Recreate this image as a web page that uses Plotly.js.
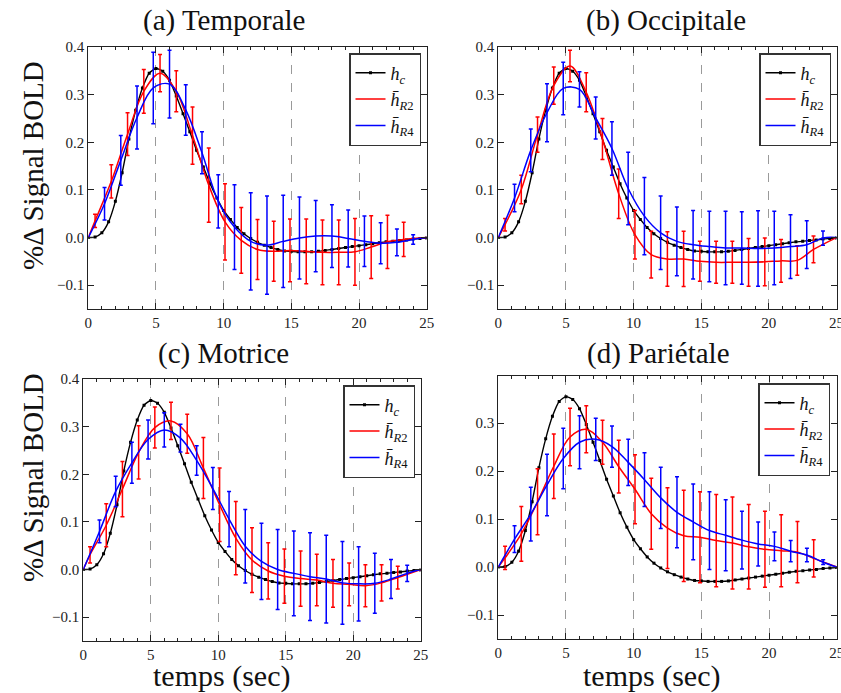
<!DOCTYPE html>
<html><head><meta charset="utf-8">
<script src="https://cdn.plot.ly/plotly-3.0.1.min.js"></script>
<style>body{margin:0;background:#fff}#chart{width:841px;height:693px}</style>
</head><body><div id="chart"></div>
<script>
// ---------- data ----------
const panelTitles = ['(a) Temporale', '(b) Occipitale', '(c) Motrice', '(d) Pariétale'];
const legendNames = ['<i>h</i><sub><i>c</i></sub>', '<i>h\u0304</i><sub><i>R</i>2</sub>', '<i>h\u0304</i><sub><i>R</i>4</sub>'];
const xTitle = 'temps (sec)';
const yTitle = '%\u0394 Signal BOLD';

// canonical response h_c (same in all four panels)
const tH = [0,0.5,1,1.5,2,2.5,3,3.5,4,4.5,5,5.5,6,6.5,7,7.5,8,8.5,9,9.5,10,10.5,11,11.5,12,12.5,13,13.5,14,14.5,15,15.5,16,16.5,17,17.5,18,18.5,19,19.5,20,20.5,21,21.5,22,22.5,23,23.5,24,24.5,25];
const hC = [0,0.001,0.01,0.033,0.076,0.136,0.207,0.267,0.314,0.345,0.355,0.349,0.33,0.297,0.26,0.222,0.183,0.148,0.113,0.083,0.057,0.038,0.021,0.008,-0.002,-0.01,-0.016,-0.021,-0.025,-0.028,-0.029,-0.03,-0.03,-0.03,-0.029,-0.027,-0.025,-0.023,-0.021,-0.019,-0.017,-0.015,-0.013,-0.011,-0.009,-0.008,-0.006,-0.005,-0.003,-0.002,-0.001];

// time points of R2 (red) and R4 (blue) estimates
const tR = [0,0.5,1.7,2.9,4.1,5.3,6.5,7.7,8.9,10.1,11.3,12.5,13.7,14.9,16.1,17.3,18.5,19.7,20.9,22.1,23.3,25];
const tB = [0,1.2,2.4,3.6,4.8,6.0,7.2,8.4,9.6,10.8,12.0,13.2,14.4,15.6,16.8,18.0,19.2,20.4,21.6,22.8,24.0,25];

// (a) Temporale
const redA  = [0,0.035,0.118,0.217,0.307,0.345,0.307,0.214,0.11,0.033,-0.006,-0.025,-0.029,-0.027,-0.029,-0.031,-0.031,-0.03,-0.02,-0.009,-0.004,0];
const redAErr  = [0.014,0.035,0.045,0.046,0.039,0.043,0.06,0.078,0.08,0.069,0.063,0.063,0.066,0.068,0.068,0.068,0.07,0.066,0.056,0.036];
const blueA = [0,0.071,0.162,0.252,0.314,0.322,0.268,0.178,0.076,0.022,-0.008,-0.016,-0.008,-0.001,0.003,0.003,-0.002,-0.008,-0.012,-0.01,-0.004,0];
const blueAErr = [0.034,0.052,0.066,0.075,0.071,0.053,0.044,0.056,0.089,0.102,0.103,0.097,0.086,0.075,0.066,0.06,0.053,0.043,0.028,0.01];

// (b) Occipitale
const redB  = [0,0.027,0.101,0.216,0.319,0.36,0.305,0.207,0.092,0.006,-0.036,-0.045,-0.045,-0.05,-0.052,-0.052,-0.052,-0.051,-0.049,-0.048,-0.025,0];
const redBErr  = [0.013,0.03,0.037,0.039,0.033,0.041,0.043,0.052,0.051,0.049,0.057,0.058,0.042,0.044,0.044,0.05,0.05,0.045,0.031,0.028];
const blueB = [0,0.083,0.183,0.262,0.313,0.311,0.251,0.187,0.103,0.045,0.01,-0.008,-0.015,-0.019,-0.022,-0.022,-0.023,-0.022,-0.019,-0.015,-0.001,0];
const blueBErr = [0.029,0.045,0.061,0.055,0.037,0.044,0.056,0.076,0.081,0.077,0.072,0.072,0.074,0.077,0.076,0.079,0.077,0.067,0.05,0.015];

// (c) Motrice
const redC  = [0,0.031,0.093,0.169,0.246,0.298,0.312,0.285,0.213,0.136,0.066,0.02,-0.003,-0.014,-0.019,-0.022,-0.029,-0.031,-0.034,-0.028,-0.017,0];
const redCErr  = [0.017,0.045,0.058,0.056,0.043,0.039,0.041,0.064,0.077,0.077,0.068,0.059,0.057,0.058,0.054,0.05,0.045,0.044,0.038,0.024];
const blueC = [0,0.08,0.164,0.224,0.273,0.293,0.276,0.229,0.17,0.106,0.049,0.017,0.0,-0.008,-0.015,-0.02,-0.028,-0.03,-0.029,-0.02,-0.008,0];
const blueCErr = [0.024,0.032,0.043,0.041,0.036,0.029,0.031,0.044,0.058,0.077,0.08,0.084,0.089,0.092,0.092,0.087,0.078,0.063,0.041,0.017];

// (d) Pariétale
const redD  = [0,0.019,0.069,0.136,0.21,0.271,0.287,0.26,0.209,0.162,0.111,0.081,0.065,0.062,0.055,0.05,0.042,0.037,0.034,0.031,0.018,0];
const redDErr  = [0.024,0.057,0.069,0.067,0.06,0.049,0.046,0.055,0.072,0.074,0.084,0.095,0.095,0.096,0.096,0.088,0.079,0.075,0.064,0.039];
const blueD = [0,0.058,0.11,0.171,0.226,0.26,0.266,0.251,0.218,0.182,0.144,0.114,0.094,0.076,0.066,0.056,0.048,0.043,0.033,0.025,0.01,0];
const blueDErr = [0.028,0.056,0.064,0.063,0.055,0.044,0.043,0.048,0.056,0.064,0.074,0.079,0.081,0.074,0.06,0.046,0.03,0.022,0.014,0.005];

const xTicks = [0,5,10,15,20,25];
const yTicks = [-0.1,0.0,0.1,0.2,0.3,0.4];
const yTicksD = [-0.1,0.0,0.1,0.2,0.3];

// ---------- build ----------
const W = 841, H = 693;
const FONT = '"Liberation Serif", "Times New Roman", serif';
const RED = '#ff0000', BLUE = '#0000ff';

const panels = [
  {red: redA, redErr: redAErr, blue: blueA, blueErr: blueAErr, px: [88.3, 426.7], py: [47, 309], yr: [-0.15, 0.4], yt: yTicks,
   title: [224, 21], leg: [421, 53]},
  {red: redB, redErr: redBErr, blue: blueB, blueErr: blueBErr, px: [498.3, 836.5], py: [47, 309], yr: [-0.15, 0.4], yt: yTicks,
   title: [666, 21], leg: [831, 53]},
  {red: redC, redErr: redCErr, blue: blueC, blueErr: blueCErr, px: [83.3, 420.7], py: [379, 641], yr: [-0.15, 0.4], yt: yTicks,
   title: [223, 353], leg: [415, 385]},
  {red: redD, redErr: redDErr, blue: blueD, blueErr: blueDErr, px: [498.3, 836.7], py: [376, 639], yr: [-0.15, 0.398], yt: yTicksD,
   title: [658, 353], leg: [830, 383]}
];

const pad = e => [NaN].concat(e, [NaN]);
const traces = [];
const layout = {
  width: W, height: H, margin: {l: 0, r: 0, t: 0, b: 0},
  paper_bgcolor: '#fff', plot_bgcolor: '#fff',
  font: {family: FONT, color: '#111', size: 14},
  annotations: [], showlegend: true
};

panels.forEach((p, i) => {
  const n = i === 0 ? '' : String(i + 1);
  const xa = 'x' + n, ya = 'y' + n, lg = 'legend' + n;
  traces.push({x: tH, y: hC, xaxis: xa, yaxis: ya, type: 'scatter', mode: 'lines+markers',
    name: legendNames[0], legend: lg, line: {color: '#000', width: 1.4, shape: 'spline', smoothing: 0.6},
    marker: {color: '#000', size: 3, symbol: 'square'}});
  traces.push({x: tR, y: p.red, xaxis: xa, yaxis: ya, type: 'scatter', mode: 'lines',
    name: legendNames[1], legend: lg, line: {color: RED, width: 1.5, shape: 'spline', smoothing: 1},
    error_y: {type: 'data', array: pad(p.redErr), visible: true, color: RED, thickness: 1.5, width: 2}});
  traces.push({x: tB, y: p.blue, xaxis: xa, yaxis: ya, type: 'scatter', mode: 'lines',
    name: legendNames[2], legend: lg, line: {color: BLUE, width: 1.5, shape: 'spline', smoothing: 1},
    error_y: {type: 'data', array: pad(p.blueErr), visible: true, color: BLUE, thickness: 1.5, width: 2}});

  layout['xaxis' + n] = {
    domain: [p.px[0] / W, p.px[1] / W], anchor: ya, range: [0, 25],
    tickvals: xTicks, ticks: 'inside', ticklen: 6, tickwidth: 1, tickcolor: '#222',
    mirror: 'ticks', showline: true, linecolor: '#222', linewidth: 1,
    showgrid: true, gridcolor: '#9a9a9a', griddash: 'dash', gridwidth: 1, zeroline: false,
    minor: {dtick: 1, ticks: 'inside', ticklen: 3, tickcolor: '#222', showgrid: false},
    ticklabeloverflow: 'allow',
    tickfont: {family: FONT, size: 15, color: '#222'}, fixedrange: true
  };
  layout['yaxis' + n] = {
    domain: [1 - p.py[1] / H, 1 - p.py[0] / H], anchor: xa, range: p.yr,
    tickvals: p.yt, tickformat: '.1f', ticks: 'inside', ticklen: 6, tickwidth: 1, tickcolor: '#222',
    mirror: 'ticks', showline: true, linecolor: '#222', linewidth: 1,
    showgrid: false, zeroline: false, ticklabeloverflow: 'allow',
    tickfont: {family: FONT, size: 15, color: '#222'}, fixedrange: true
  };
  layout[lg] = {
    x: p.leg[0] / W, y: 1 - p.leg[1] / H, xanchor: 'right', yanchor: 'top',
    xref: 'paper', yref: 'paper',
    bgcolor: '#fff', bordercolor: '#333', borderwidth: 1.5,
    font: {family: FONT, size: 18, color: '#111'}, itemwidth: 30, tracegroupgap: 0
  };
  layout.annotations.push({text: panelTitles[i], x: p.title[0] / W, y: 1 - p.title[1] / H,
    xref: 'paper', yref: 'paper', xanchor: 'center', yanchor: 'middle', showarrow: false,
    font: {family: FONT, size: 29, color: '#111'}});
});

// axis titles
[[222, 676], [651, 676]].forEach(c => layout.annotations.push({text: xTitle, x: c[0] / W, y: 1 - c[1] / H,
  xref: 'paper', yref: 'paper', xanchor: 'center', yanchor: 'middle', showarrow: false,
  font: {family: FONT, size: 30, color: '#111'}}));
[[33, 166], [33, 478]].forEach(c => layout.annotations.push({text: yTitle, x: c[0] / W, y: 1 - c[1] / H,
  xref: 'paper', yref: 'paper', xanchor: 'center', yanchor: 'middle', showarrow: false, textangle: -90,
  font: {family: FONT, size: 29, color: '#111'}}));

Plotly.newPlot('chart', traces, layout, {displayModeBar: false, staticPlot: true});
</script>
</body></html>
